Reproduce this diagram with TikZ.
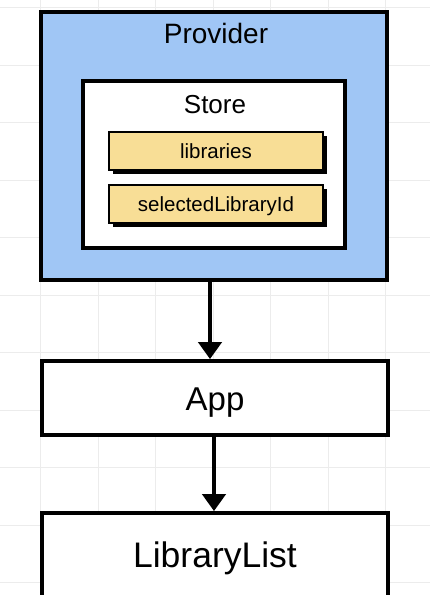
\documentclass[tikz,border=0pt]{standalone}
\usepackage{fontspec}
\setmainfont{Liberation Sans}
\usetikzlibrary{arrows.meta,shadows}
\definecolor{provblue}{RGB}{160,198,245}
\definecolor{keyyellow}{RGB}{248,222,150}
\definecolor{gridgray}{RGB}{236,236,236}
\begin{document}
\begin{tikzpicture}[x=1pt,y=-1pt,
  gridline/.style={draw=gridgray, line width=0.8pt},
  bigbox/.style={draw=black, line width=3.8pt, rectangle, inner sep=0pt},
  keybox/.style={draw=black, line width=1.4pt, rectangle, inner sep=0pt,
    fill=keyyellow, minimum width=214pt, minimum height=38pt,
    drop shadow={shadow xshift=3.5pt, shadow yshift=-3.5pt, fill=black, opacity=1}},
  keytext/.style={anchor=base, font=\fontsize{20.5}{24}\selectfont},
  flow/.style={draw=black, line width=4.5pt, -{Triangle[width=23pt,length=17pt]}}
]
\useasboundingbox (0,0) rectangle (430,595);
\clip (0,0) rectangle (430,595);
\fill[white] (0,0) rectangle (430,595);
% faint background grid
\foreach \gx in {40.5,98,...,430} \draw[gridline] (\gx,0) -- (\gx,595);
\foreach \gy in {7.5,65,...,595} \draw[gridline] (0,\gy) -- (430,\gy);

% Provider
\node[bigbox, fill=provblue, minimum width=346pt, minimum height=268pt] (provider) at (214,146) {};
\node[anchor=base, font=\fontsize{28}{32}\selectfont] (providerlabel) at (216,43) {Provider};

% Store
\node[bigbox, fill=white, minimum width=262pt, minimum height=167pt] (store) at (214,164.5) {};
\node[anchor=base, font=\fontsize{26}{30}\selectfont] (storelabel) at (215,113) {Store};

% state keys
\node[keybox] (libraries) at (216,151) {};
\node[keytext] (librarieslabel) at (216,158) {libraries};
\node[keybox] (selected) at (216,204) {};
\node[keytext] (selectedlabel) at (216,211) {selectedLibraryId};

% App
\node[bigbox, fill=white, minimum width=346pt, minimum height=74pt] (app) at (215,398) {};
\node[anchor=base, font=\fontsize{33}{38}\selectfont] (applabel) at (215,410) {App};

% LibraryList
\node[bigbox, fill=white, minimum width=346pt, minimum height=137pt] (librarylist) at (215,581.5) {};
\node[anchor=base, font=\fontsize{35.5}{40}\selectfont] (librarylistlabel) at (215,567) {LibraryList};

% connectors
\draw[flow] ([xshift=-4pt]provider.south) -- ([xshift=-5pt]app.north);
\draw[flow] ([xshift=-1pt]app.south) -- ([xshift=-1pt]librarylist.north);
\end{tikzpicture}
\end{document}
